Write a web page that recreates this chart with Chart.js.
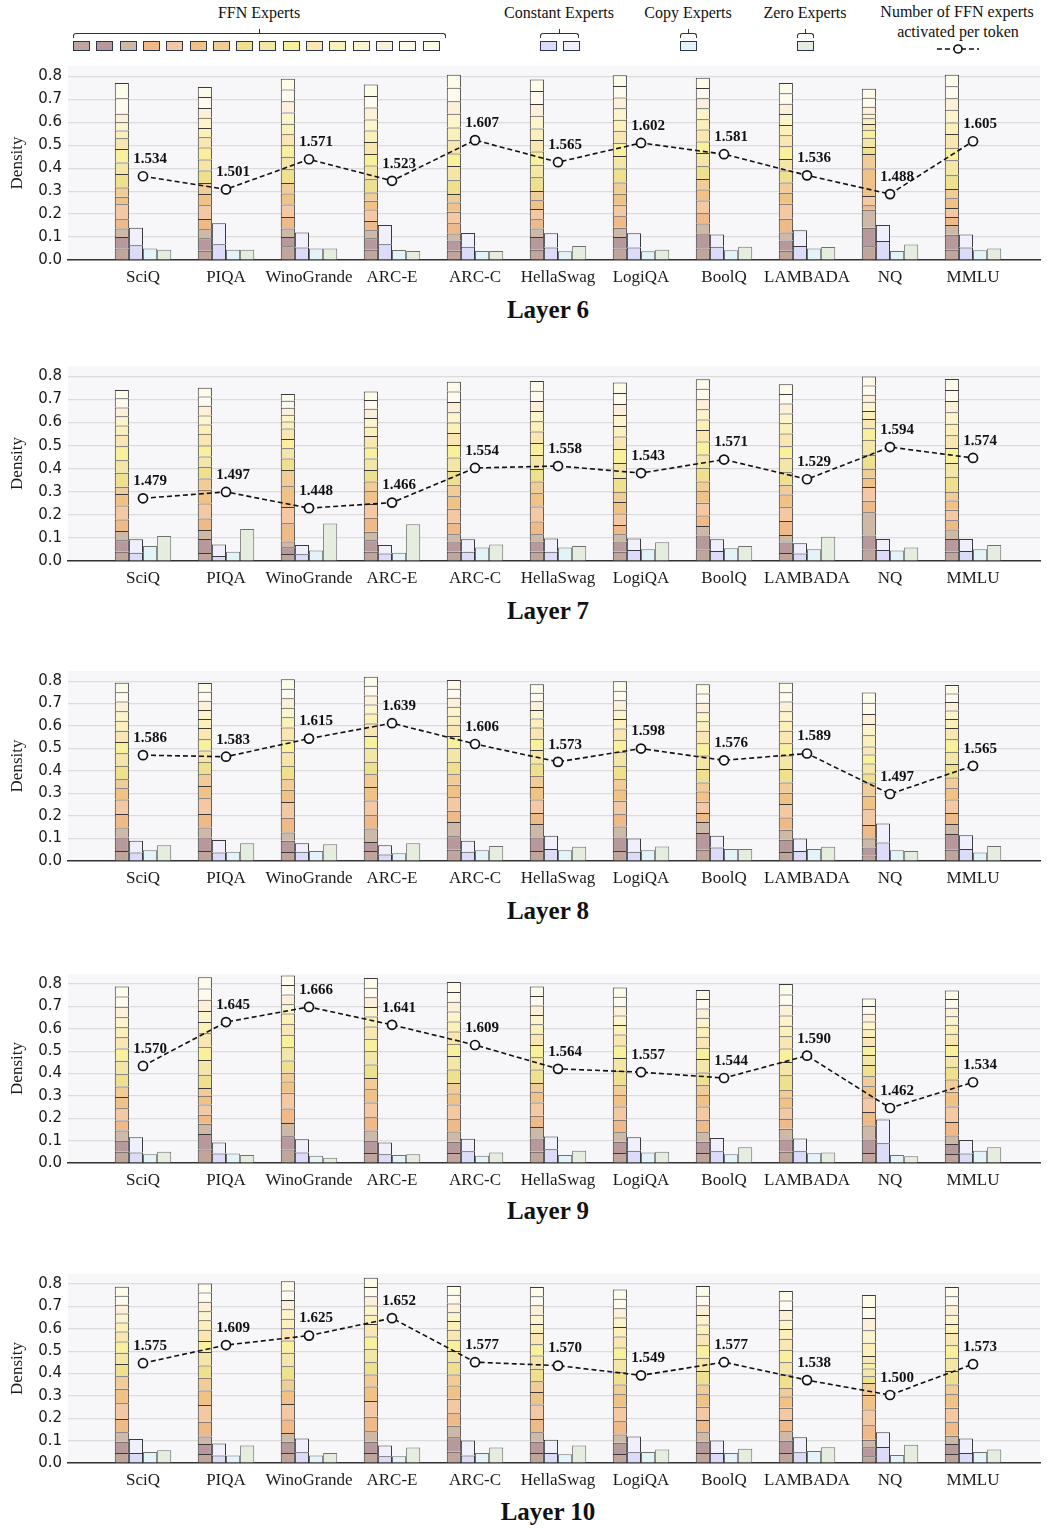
<!DOCTYPE html>
<html><head><meta charset="utf-8">
<script src="https://cdn.jsdelivr.net/npm/chart.js@4.4.0/dist/chart.umd.min.js"></script>
<style>
body{margin:0;background:#fff;width:1047px;height:1528px;position:relative;overflow:hidden;font-family:"Liberation Serif",serif;color:#111;}
.t{position:absolute;font-size:16px;white-space:nowrap;transform:translateX(-50%);line-height:1;}
.sw{position:absolute;width:17px;height:10px;border:1.3px solid #2b3552;top:41px;box-sizing:border-box;}
.br{position:absolute;top:33px;height:5px;border:1.2px solid #333;border-bottom:none;border-radius:3px 3px 0 0;box-sizing:border-box;}
.tk{position:absolute;width:1.3px;height:4px;background:#333;top:29px;}
canvas{position:absolute;left:0;}
.title{position:absolute;font-weight:bold;font-size:25px;line-height:1;transform:translateX(-50%);left:548px;white-space:nowrap;}
</style></head><body>
<div id="legend"></div>
<script>
// ---------------- data ----------------
const categories = ['SciQ','PIQA','WinoGrande','ARC-E','ARC-C','HellaSwag','LogiQA','BoolQ','LAMBADA','NQ','MMLU'];
const layerNames = ['Layer 6','Layer 7','Layer 8','Layer 9','Layer 10'];
const yTickValues = [0,0.1,0.2,0.3,0.4,0.5,0.6,0.7,0.8];
const yTickLabels = ['0.0','0.1','0.2','0.3','0.4','0.5','0.6','0.7','0.8'];
const ffnLegendNames = ['FFN 1','FFN 2','FFN 3','FFN 4','FFN 5','FFN 6','FFN 7','FFN 8','FFN 9','FFN 10','FFN 11','FFN 12','FFN 13','FFN 14','FFN 15','FFN 16'];

// FFN expert densities: one row per category, 16 experts (bottom to top)
const ffnL6 = [
[.050,.050,.037,.041,.065,.033,.040,.059,.050,.059,.046,.034,.036,.037,.068,.066],
[.040,.055,.039,.045,.060,.048,.048,.055,.048,.052,.045,.040,.045,.042,.048,.044],
[.060,.040,.037,.050,.055,.048,.045,.060,.055,.050,.048,.045,.050,.048,.052,.047],
[.045,.050,.035,.040,.050,.038,.036,.058,.060,.050,.052,.050,.048,.052,.050,.050],
[.040,.045,.030,.045,.050,.040,.037,.060,.062,.055,.058,.055,.060,.055,.058,.057],
[.045,.055,.037,.040,.045,.038,.040,.060,.055,.058,.050,.050,.055,.052,.056,.050],
[.050,.050,.041,.050,.050,.048,.049,.060,.055,.058,.052,.048,.050,.047,.050,.047],
[.050,.065,.044,.045,.055,.048,.046,.055,.058,.050,.052,.045,.048,.043,.045,.045],
[.040,.045,.035,.060,.065,.048,.045,.052,.050,.055,.048,.045,.048,.045,.045,.045],
[.060,.080,.079,.020,.040,.120,.063,.030,.040,.035,.025,.025,.020,.030,.040,.039],
[.045,.065,.042,.035,.040,.042,.040,.060,.065,.055,.060,.050,.055,.050,.053,.050]];
const ffnL7 = [
[.040,.050,.040,.050,.060,.050,.032,.060,.055,.060,.050,.040,.040,.038,.040,.036],
[.035,.060,.039,.050,.065,.060,.049,.050,.045,.048,.050,.040,.040,.042,.040,.038],
[.030,.030,.024,.080,.070,.090,.070,.050,.045,.040,.045,.030,.030,.030,.030,.030],
[.040,.050,.037,.060,.060,.055,.042,.050,.050,.048,.050,.040,.038,.040,.038,.036],
[.040,.045,.031,.050,.060,.055,.049,.060,.058,.055,.052,.045,.045,.044,.045,.043],
[.040,.045,.031,.055,.065,.058,.050,.055,.060,.052,.050,.045,.044,.043,.045,.042],
[.040,.045,.031,.040,.050,.050,.044,.060,.065,.060,.055,.045,.048,.047,.048,.045],
[.050,.060,.042,.045,.055,.050,.042,.060,.058,.056,.050,.045,.045,.043,.045,.042],
[.035,.045,.033,.060,.060,.055,.042,.055,.060,.052,.055,.045,.042,.043,.042,.042],
[.050,.060,.101,.050,.060,.040,.039,.060,.065,.050,.040,.035,.040,.030,.040,.040],
[.040,.055,.042,.040,.045,.040,.038,.065,.060,.065,.055,.050,.050,.048,.048,.048]];
const ffnL8 = [
[.045,.060,.044,.060,.065,.050,.040,.060,.055,.050,.050,.045,.042,.043,.042,.042],
[.045,.060,.044,.060,.070,.055,.052,.055,.050,.050,.050,.040,.040,.042,.040,.039],
[.040,.050,.037,.065,.070,.055,.047,.060,.060,.055,.055,.045,.043,.042,.042,.042],
[.045,.040,.059,.060,.065,.060,.057,.055,.060,.055,.055,.045,.040,.040,.043,.040],
[.050,.060,.064,.050,.060,.055,.047,.055,.060,.055,.050,.040,.040,.040,.040,.039],
[.045,.060,.059,.050,.060,.055,.050,.055,.060,.050,.050,.040,.038,.038,.038,.038],
[.045,.060,.048,.055,.060,.050,.046,.060,.060,.055,.050,.042,.042,.042,.042,.042],
[.050,.075,.049,.040,.050,.045,.040,.060,.060,.055,.055,.042,.041,.042,.041,.041],
[.040,.055,.044,.055,.060,.050,.045,.060,.060,.055,.055,.045,.042,.043,.042,.042],
[.025,.035,.040,.060,.070,.060,.059,.040,.045,.040,.035,.050,.050,.045,.050,.045],
[.050,.070,.044,.050,.060,.050,.047,.060,.055,.055,.050,.040,.038,.038,.038,.038]];
const ffnL9 = [
[.050,.050,.045,.045,.055,.050,.047,.055,.060,.055,.050,.045,.045,.047,.045,.045],
[.060,.070,.046,.040,.045,.040,.034,.060,.065,.060,.060,.050,.050,.050,.050,.050],
[.060,.060,.059,.065,.070,.050,.039,.055,.060,.055,.050,.045,.042,.043,.043,.042],
[.045,.055,.045,.060,.065,.060,.050,.060,.060,.055,.055,.045,.043,.043,.043,.043],
[.045,.050,.046,.055,.065,.050,.047,.060,.060,.055,.055,.045,.044,.044,.044,.044],
[.050,.060,.051,.050,.060,.045,.042,.060,.055,.055,.050,.042,.042,.042,.043,.042],
[.045,.050,.043,.055,.060,.050,.047,.060,.060,.055,.050,.042,.042,.042,.042,.042],
[.045,.050,.043,.055,.060,.050,.047,.055,.060,.050,.050,.042,.042,.042,.042,.041],
[.050,.055,.048,.045,.050,.045,.034,.065,.060,.060,.055,.047,.046,.047,.046,.047],
[.045,.060,.063,.060,.065,.050,.045,.050,.045,.040,.040,.035,.035,.034,.035,.034],
[.040,.045,.038,.060,.070,.065,.055,.055,.050,.050,.050,.040,.038,.038,.039,.038]];
const ffnL10 = [
[.045,.050,.042,.060,.070,.065,.056,.055,.050,.050,.045,.040,.040,.040,.040,.040],
[.040,.045,.034,.065,.075,.065,.057,.055,.060,.050,.050,.042,.041,.042,.041,.041],
[.045,.050,.039,.060,.070,.060,.049,.060,.060,.055,.055,.042,.042,.042,.042,.042],
[.045,.050,.047,.065,.070,.065,.054,.055,.060,.055,.055,.042,.041,.042,.041,.041],
[.050,.065,.052,.055,.065,.060,.049,.055,.050,.050,.045,.039,.039,.039,.039,.039],
[.045,.050,.042,.060,.065,.055,.049,.055,.060,.050,.050,.041,.041,.042,.041,.041],
[.040,.050,.037,.060,.065,.055,.044,.055,.060,.050,.050,.042,.042,.042,.042,.042],
[.045,.050,.042,.055,.060,.055,.044,.060,.060,.055,.050,.043,.043,.043,.043,.043],
[.045,.055,.042,.050,.055,.050,.039,.060,.055,.055,.050,.043,.042,.043,.042,.043],
[.030,.040,.034,.065,.070,.065,.054,.030,.035,.025,.030,.060,.055,.055,.050,.053],
[.040,.045,.037,.060,.065,.060,.044,.060,.060,.055,.055,.041,.041,.042,.041,.041]];

// Constant experts (two stacked segments), copy, zero
const constLowL6  = [.064,.069,.054,.069,.058,.054,.054,.058,.061,.083,.054];
const constHighL6 = [.077,.091,.066,.083,.060,.063,.063,.053,.069,.069,.057];
const copyL6      = [.050,.045,.050,.044,.039,.038,.038,.042,.050,.039,.042];
const zeroL6      = [.045,.045,.050,.039,.039,.061,.045,.058,.057,.067,.050];
const activeL6    = [1.534,1.501,1.571,1.523,1.607,1.565,1.602,1.581,1.536,1.488,1.605];

const constLowL7  = [.036,.022,.029,.032,.040,.040,.048,.043,.033,.048,.043];
const constHighL7 = [.058,.050,.040,.037,.054,.058,.050,.051,.044,.047,.052];
const copyL7      = [.065,.040,.046,.036,.058,.058,.051,.055,.051,.046,.051];
const zeroL7      = [.108,.139,.163,.159,.072,.065,.081,.065,.105,.059,.069];
const activeL7    = [1.479,1.497,1.448,1.466,1.554,1.558,1.543,1.571,1.529,1.594,1.574];

const constLowL8  = [.038,.038,.041,.029,.041,.053,.041,.060,.045,.082,.053];
const constHighL8 = [.052,.055,.038,.041,.049,.059,.059,.052,.055,.085,.062];
const copyL8      = [.048,.041,.044,.035,.048,.048,.048,.053,.053,.048,.038];
const zeroL8      = [.070,.079,.075,.079,.067,.063,.064,.053,.063,.045,.067];
const activeL8    = [1.586,1.583,1.615,1.639,1.606,1.573,1.598,1.576,1.589,1.497,1.565];

const constLowL9  = [.047,.042,.047,.039,.052,.062,.055,.052,.052,.088,.042];
const constHighL9 = [.068,.050,.059,.053,.056,.056,.060,.060,.057,.106,.061];
const copyL9      = [.039,.042,.032,.036,.032,.036,.047,.039,.044,.036,.055];
const zeroL9      = [.050,.036,.024,.039,.047,.055,.050,.070,.047,.030,.070];
const activeL9    = [1.570,1.645,1.666,1.641,1.609,1.564,1.557,1.544,1.590,1.462,1.534];

const constLowL10  = [.045,.034,.048,.030,.034,.045,.048,.045,.048,.072,.045];
const constHighL10 = [.062,.053,.061,.048,.067,.059,.071,.056,.067,.065,.065];
const copyL10      = [.049,.034,.034,.030,.045,.039,.049,.045,.054,.036,.049];
const zeroL10      = [.057,.078,.045,.069,.069,.078,.060,.064,.070,.082,.060];
const activeL10    = [1.575,1.609,1.625,1.652,1.577,1.570,1.549,1.577,1.538,1.500,1.573];

// ---------------- styling / layout ----------------
const ffnColors = ['#bfa59a','#b8999b','#cdb9a5','#efb988','#f3c8a2','#f0c285','#f2cc96','#efe08e',
                   '#f3e6a6','#f8f09a','#fae6b0','#fbf1b8','#fcf5cc','#fdf0d8','#fefaee','#fdfce8'];
const constColors = ['#dcdcfa','#f0f0fc'];
const copyColor = '#e2f4f8';
const zeroColor = '#e5eddf';

// hidden secondary axis for the line (non-linear, exponential-spaced scale)
const layers = [
  {ffn:ffnL6, lo:constLowL6, hi:constHighL6, copy:copyL6, zero:zeroL6, act:activeL6, y2:{min:1.1473,max:1.7117,k:4.0}},
  {ffn:ffnL7, lo:constLowL7, hi:constHighL7, copy:copyL7, zero:zeroL7, act:activeL7, y2:{min:1.0861,max:1.7038,k:4.5}},
  {ffn:ffnL8, lo:constLowL8, hi:constHighL8, copy:copyL8, zero:zeroL8, act:activeL8, y2:{min:1.0500,max:1.7048,k:4.6}},
  {ffn:ffnL9, lo:constLowL9, hi:constHighL9, copy:copyL9, zero:zeroL9, act:activeL9, y2:{min:1.0824,max:1.7057,k:4.5}},
  {ffn:ffnL10,lo:constLowL10,hi:constHighL10,copy:copyL10,zero:zeroL10,act:activeL10,y2:{min:1.1281,max:1.7091,k:4.2}}
];
const geom = [
  {top:66, base:260, title:297},
  {top:366, base:561, title:598},
  {top:671, base:861, title:898},
  {top:974, base:1163, title:1198},
  {top:1274, base:1463, title:1499}
];
const PADTOP = 22;

class ExpScale extends Chart.LinearScale {
  getPixelForValue(value) {
    const k = this.options.k || 1;
    const e = x => Math.exp(k * x);
    return this.getPixelForDecimal((e(value) - e(this.min)) / (e(this.max) - e(this.min)));
  }
  getValueForPixel(pixel) {
    const k = this.options.k || 1;
    const e = x => Math.exp(k * x);
    const d = this.getDecimalForPixel(pixel);
    return Math.log(e(this.min) + d * (e(this.max) - e(this.min))) / k;
  }
}
ExpScale.id = 'exponential';
ExpScale.defaults = {};
Chart.register(ExpScale);

// ---------------- legend (HTML) ----------------
const lg = document.getElementById('legend');
function add(html){ lg.insertAdjacentHTML('beforeend', html); }
add('<div class="t" style="left:259px;top:5px">FFN Experts</div>');
add('<div class="br" style="left:73px;width:373px"></div><div class="tk" style="left:258.5px"></div>');
ffnColors.forEach((c,k)=>add(`<div class="sw" style="left:${73+k*23.3}px;background:${c}"></div>`));
add('<div class="t" style="left:559px;top:5px">Constant Experts</div>');
add('<div class="br" style="left:540px;width:39px"></div><div class="tk" style="left:559px"></div>');
constColors.forEach((c,k)=>add(`<div class="sw" style="left:${540+k*22.5}px;background:${c}"></div>`));
add('<div class="t" style="left:688px;top:5px">Copy Experts</div>');
add('<div class="br" style="left:680px;width:17px"></div><div class="tk" style="left:688px"></div>');
add(`<div class="sw" style="left:680px;background:${copyColor}"></div>`);
add('<div class="t" style="left:805px;top:5px">Zero Experts</div>');
add('<div class="br" style="left:797px;width:17px"></div><div class="tk" style="left:805px"></div>');
add(`<div class="sw" style="left:797px;background:${zeroColor}"></div>`);
add('<div class="t" style="left:957px;top:4px">Number of FFN experts</div>');
add('<div class="t" style="left:958px;top:24px">activated per token</div>');
add('<svg style="position:absolute;left:935px;top:42px" width="46" height="14"><line x1="2" y1="7" x2="44" y2="7" stroke="#111" stroke-width="1.6" stroke-dasharray="5,3"/><circle cx="23" cy="7" r="4" fill="#fff" stroke="#111" stroke-width="1.6"/></svg>');

// ---------------- charts ----------------
const bgPlugin = {
  id:'bg',
  beforeDraw(chart){
    const {ctx, chartArea:a} = chart;
    ctx.save(); ctx.fillStyle = '#f7f7fa';
    ctx.fillRect(a.left, a.top, a.right - a.left, a.bottom - a.top);
    ctx.restore();
  }
};
const labelPlugin = {
  id:'vlabels',
  afterDatasetsDraw(chart){
    const ds = chart.data.datasets;
    const idx = ds.findIndex(d => d.type === 'line');
    const meta = chart.getDatasetMeta(idx);
    const ctx = chart.ctx;
    ctx.save();
    ctx.font = 'bold 15px "Liberation Serif"';
    ctx.fillStyle = '#111'; ctx.textAlign = 'center'; ctx.textBaseline = 'middle';
    meta.data.forEach((pt, i) => ctx.fillText(ds[idx].data[i].y.toFixed(3), pt.x + 7, pt.y - 17));
    ctx.restore();
  }
};

layers.forEach((L, p) => {
  const g = geom[p];
  const cv = document.createElement('canvas');
  const h = g.base - g.top + PADTOP + 30;
  cv.width = 1047; cv.height = h;
  cv.style.top = (g.top - PADTOP) + 'px';
  document.body.appendChild(cv);
  const t = document.createElement('div');
  t.className = 'title'; t.style.top = g.title + 'px'; t.textContent = layerNames[p];
  document.body.appendChild(t);

  const pts = arr => arr.map((v, i) => ({x:i, y:v}));
  const datasets = [];
  for (let k = 0; k < 16; k++) {
    datasets.push({label:ffnLegendNames[k], data:pts(L.ffn.map(r => r[k])), stack:'ffn',
      backgroundColor:ffnColors[k], borderColor:'#3a3a3a', borderWidth:1});
  }
  datasets.push({label:'Constant 1', data:pts(L.lo), stack:'const', backgroundColor:constColors[0], borderColor:'#3a3a3a', borderWidth:1});
  datasets.push({label:'Constant 2', data:pts(L.hi), stack:'const', backgroundColor:constColors[1], borderColor:'#3a3a3a', borderWidth:1});
  datasets.push({label:'Copy', data:pts(L.copy), stack:'copy', backgroundColor:copyColor, borderColor:'#707070', borderWidth:1});
  datasets.push({label:'Zero', data:pts(L.zero), stack:'zero', backgroundColor:zeroColor, borderColor:'#707070', borderWidth:1});
  datasets.push({type:'line', label:'Active FFN', data:pts(L.act), yAxisID:'y2', order:-1,
    borderColor:'#111', borderWidth:1.6, borderDash:[5,3], tension:0, fill:false,
    pointRadius:4.5, pointBackgroundColor:'#fff', pointBorderColor:'#111', pointBorderWidth:1.7});

  new Chart(cv, {
    type:'bar',
    data:{datasets},
    options:{
      responsive:false, animation:false, events:[],
      categoryPercentage:0.68, barPercentage:1,
      layout:{padding:{top:PADTOP, left:0, right:7, bottom:0}},
      plugins:{legend:{display:false}, tooltip:{enabled:false}},
      scales:{
        x:{type:'linear', min:-0.9036, max:10.807, offset:false,
          afterBuildTicks: ax => { ax.ticks = categories.map((c, i) => ({value:i})); },
          afterFit: s => { s.height = 30; },
          ticks:{callback: v => categories[v], padding:7, color:'#1a1a1a', autoSkip:false, maxRotation:0,
                 font:{family:'Liberation Serif', size:17}},
          grid:{display:false, drawTicks:false},
          border:{display:true, color:'#333', width:1.5}},
        y:{min:0, max:0.845, stacked:true,
          afterBuildTicks: ax => { ax.ticks = yTickValues.map(v => ({value:v})); },
          afterFit: s => { s.width = 68; },
          ticks:{callback:(v, i) => yTickLabels[i], padding:6, color:'#1a1a1a', font:{family:'DejaVu Sans', size:15}},
          grid:{color:'#dcdcdc', lineWidth:1.2, drawTicks:false},
          border:{display:false},
          title:{display:true, text:'Density', color:'#1a1a1a', font:{family:'Liberation Serif', size:17}, padding:{top:7, bottom:0}}},
        y2:{type:'exponential', display:false, min:L.y2.min, max:L.y2.max, k:L.y2.k}
      }
    },
    plugins:[bgPlugin, labelPlugin]
  });
});
</script>
</body></html>
